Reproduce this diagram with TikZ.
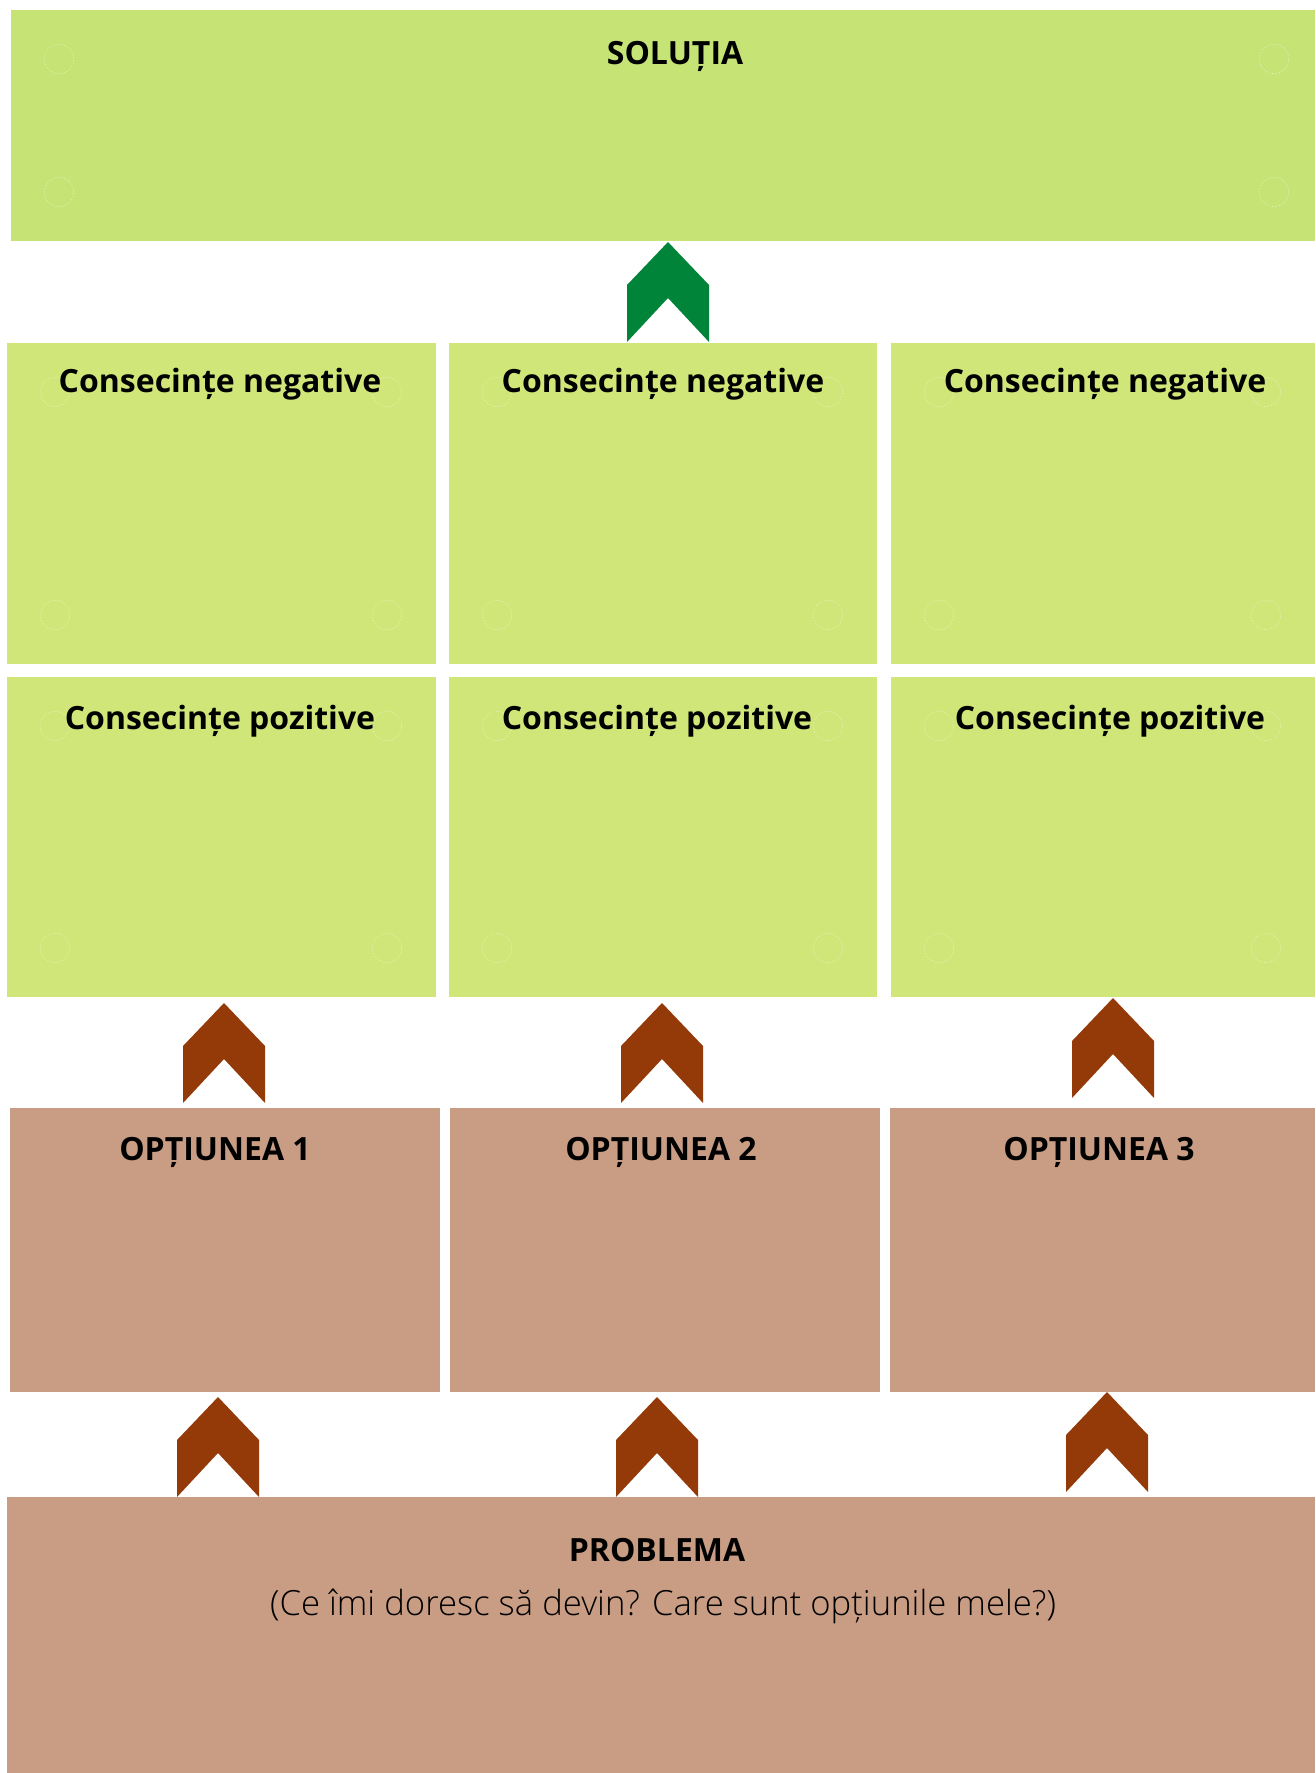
\documentclass[tikz,border=0pt]{standalone}
\usepackage{fontspec}
\setmainfont{Open Sans}
\newfontfamily\lightfont{Open Sans}[UprightFont={* Light}]
\usetikzlibrary{fit}
\definecolor{solgreen}{RGB}{198,228,117}
\definecolor{boxgreen}{RGB}{208,230,120}
\definecolor{boxbrown}{RGB}{201,157,132}
\definecolor{arrgreen}{RGB}{0,132,58}
\definecolor{arrbrown}{RGB}{147,58,8}
\tikzset{
  panel/.style={inner sep=0pt, outer sep=0pt, draw=none},
  title/.style={font=\bfseries\fontsize{24}{28}\selectfont, anchor=base, inner sep=0pt},
  sub/.style={font=\lightfont\fontsize{26}{30}\selectfont, anchor=base, inner sep=0pt},
  ring/.style={draw=white, draw opacity=0.45, dashed, dash pattern=on 1.2pt off 1.2pt, line width=0.4pt},
  chev/.pic={\fill[#1] (0,0) -- (41,43) -- (41,100) -- (0,56) -- (-41,100) -- (-41,43) -- cycle;}
}
\newcommand\rings[4]{%
  \draw[ring] (#1+48,#2+49) circle[radius=11pt];
  \draw[ring] (#3-49,#2+49) circle[radius=11pt];
  \draw[ring] (#1+48,#4-49) circle[radius=11pt];
  \draw[ring] (#3-49,#4-49) circle[radius=11pt];}
\begin{document}
\begin{tikzpicture}[x=0.75pt,y=-0.75pt]
\useasboundingbox (0,0) rectangle (1315,1773);
% solution
\node[panel, fill=solgreen, fit={(11,10) (1315,241)}] (sol) {};
\draw[ring] (59,59) circle[radius=11pt];
\draw[ring] (59,192) circle[radius=11pt];
\draw[ring] (1274,59) circle[radius=11pt];
\draw[ring] (1274,192) circle[radius=11pt];
\node[title] (tsol) at (675,65) {SOLUȚIA};
% negative row
\node[panel, fill=boxgreen, fit={(7,343) (436,664)}] (neg1) {};
\node[panel, fill=boxgreen, fit={(449,343) (877,664)}] (neg2) {};
\node[panel, fill=boxgreen, fit={(891,343) (1315,664)}] (neg3) {};
\rings{7}{343}{436}{664}
\rings{449}{343}{877}{664}
\rings{891}{343}{1315}{664}
\node[title] (tneg1) at (220,392) {Consecințe negative};
\node[title] (tneg2) at (663,392) {Consecințe negative};
\node[title] (tneg3) at (1105,392) {Consecințe negative};
% positive row
\node[panel, fill=boxgreen, fit={(7,677) (436,997)}] (pos1) {};
\node[panel, fill=boxgreen, fit={(449,677) (877,997)}] (pos2) {};
\node[panel, fill=boxgreen, fit={(891,677) (1315,997)}] (pos3) {};
\rings{7}{677}{436}{997}
\rings{449}{677}{877}{997}
\rings{891}{677}{1315}{997}
\node[title] (tpos1) at (220,729) {Consecințe pozitive};
\node[title] (tpos2) at (657,729) {Consecințe pozitive};
\node[title] (tpos3) at (1110,729) {Consecințe pozitive};
% options
\node[panel, fill=boxbrown, fit={(10,1108) (440,1392)}] (opt1) {};
\node[panel, fill=boxbrown, fit={(450,1108) (880,1392)}] (opt2) {};
\node[panel, fill=boxbrown, fit={(890,1108) (1315,1392)}] (opt3) {};
\node[title] (topt1) at (215,1160) {OPȚIUNEA 1};
\node[title] (topt2) at (661,1160) {OPȚIUNEA 2};
\node[title] (topt3) at (1099,1160) {OPȚIUNEA 3};
% problem
\node[panel, fill=boxbrown, fit={(7,1497) (1315,1773)}] (prob) {};
\node[title] (tprob) at (657,1561) {PROBLEMA};
\node[sub] (tprob2) at (663,1615) {(Ce îmi doresc să devin? Care sunt opțiunile mele?)};
% chevrons
\pic at (668,242) {chev=arrgreen};
\pic at (224,1003) {chev=arrbrown};
\pic at (662,1003) {chev=arrbrown};
\pic at (1113,998) {chev=arrbrown};
\pic at (218,1397) {chev=arrbrown};
\pic at (657,1397) {chev=arrbrown};
\pic at (1107,1392) {chev=arrbrown};
\end{tikzpicture}
\end{document}
